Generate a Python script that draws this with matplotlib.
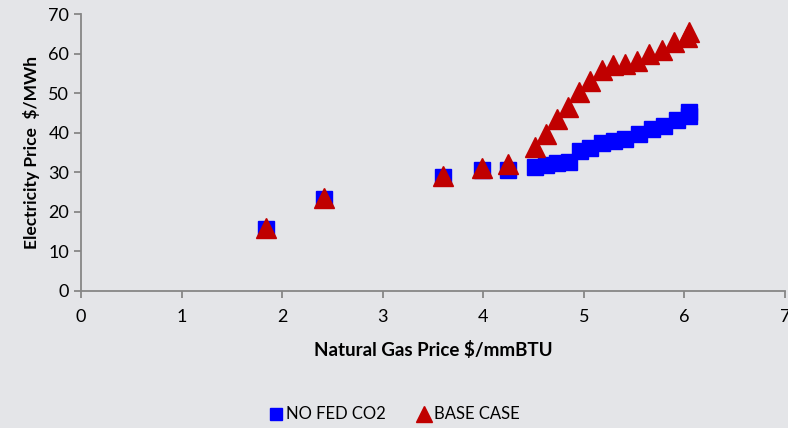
import matplotlib
matplotlib.use('Agg')
import matplotlib.pyplot as plt

plt.rcParams['font.family'] = ['Lato', 'DejaVu Sans']

# NO FED CO2 series
gas_nofed = [1.84, 2.42, 3.60, 3.99, 4.25, 4.51, 4.62, 4.73, 4.85, 4.96, 5.06, 5.18, 5.30, 5.41, 5.55, 5.68, 5.80, 5.93, 6.05, 6.05]
elec_nofed = [15.6, 23.2, 28.7, 30.5, 30.5, 31.4, 31.8, 32.4, 32.7, 35.3, 36.1, 37.4, 38.0, 38.3, 39.6, 41.0, 41.7, 43.2, 44.3, 45.3]

# BASE CASE series
gas_base = [1.84, 2.42, 3.60, 3.99, 4.25, 4.51, 4.62, 4.73, 4.84, 4.95, 5.06, 5.18, 5.29, 5.41, 5.53, 5.65, 5.78, 5.90, 6.03, 6.05]
elec_base = [15.9, 23.4, 29.0, 31.0, 32.2, 36.3, 39.6, 43.6, 46.5, 50.3, 53.2, 55.8, 57.2, 57.5, 58.2, 59.9, 61.0, 62.9, 64.2, 65.6]

bg = '#e4e5e8'
fig = plt.figure(figsize=(7.88, 4.28), dpi=100, facecolor=bg)
ax = fig.add_axes([0.1028, 0.3208, 0.8934, 0.6458], facecolor=bg)

ax.plot(gas_nofed, elec_nofed, linestyle='none', marker='s', markersize=11,
        color='#0000ff', markeredgecolor='#0000ff', label='NO FED CO2')
ax.plot(gas_base, elec_base, linestyle='none', marker='^', markersize=15,
        color='#c00000', markeredgecolor='#c00000', label='BASE CASE')

ax.set_xlim(0, 7)
ax.set_ylim(0, 70)
ax.set_xticks(range(0, 8))
ax.set_yticks(range(0, 71, 10))
for s in ['top', 'right']:
    ax.spines[s].set_visible(False)
for s in ['left', 'bottom']:
    ax.spines[s].set_color('#868686')
    ax.spines[s].set_linewidth(1.3)
ax.tick_params(colors='#868686', labelcolor='black', labelsize=13, length=5, width=1.3)
ax.tick_params(axis='x', pad=8)

ax.set_xlabel('Natural Gas Price $/mmBTU', fontsize=13.5, fontweight='bold', labelpad=12)
ax.set_ylabel('Electricity Price  $/MWh', fontsize=12.5, fontweight='bold', labelpad=6)

leg = fig.legend(loc='lower center', bbox_to_anchor=(0.5, -0.022), ncol=2, frameon=False,
                 fontsize=12, handletextpad=0.1, columnspacing=1.8, markerscale=0.75,
                 handlelength=1.0)

fig.savefig('out.png', dpi=100, facecolor=bg)
